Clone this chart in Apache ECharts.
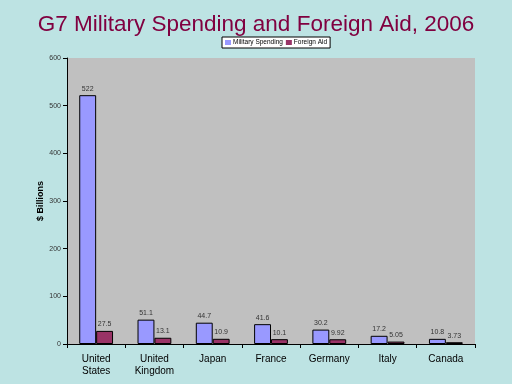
<!DOCTYPE html>
<html><head><meta charset="utf-8">
<script src="https://cdn.jsdelivr.net/npm/echarts@6/dist/echarts.min.js"></script>
<style>html,body{margin:0;padding:0;background:#bde3e3;}#c{width:512px;height:384px;}</style>
</head><body><div id="c"></div>
<script>
var categories = ['United\nStates','United\nKingdom','Japan','France','Germany','Italy','Canada'];
var military = [522, 51.1, 44.7, 41.6, 30.2, 17.2, 10.8];
var aid = [27.5, 13.1, 10.9, 10.1, 9.92, 5.05, 3.73];
var yTicks = [0, 100, 200, 300, 400, 500, 600];

var chart = echarts.init(document.getElementById('c'), null, {renderer:'canvas'});
var lbl = {show:true, position:'top', fontSize:7, color:'#333', fontFamily:'Liberation Sans', distance:3};
chart.setOption({
  backgroundColor:'#bde3e3',
  animation:false,
  title:{text:'G7 Military Spending and Foreign Aid, 2006', left:'center', top:8,
    textStyle:{fontFamily:'Liberation Sans', fontSize:22.5, fontWeight:'normal', color:'#800040'}},
  legend:{top:37, left:222, itemWidth:6, itemHeight:5, itemGap:3, padding:[2,3],
    icon:'rect',
    backgroundColor:'#fff', borderColor:'#000', borderWidth:1,
    itemStyle:{borderWidth:0},
    textStyle:{fontSize:6.5, fontFamily:'Liberation Sans', color:'#000', padding:[0,0,0,-3]},
    data:['Military Spending','Foreign Aid']},
  grid:{left:67, right:37, top:58, bottom:40, backgroundColor:'#c0c0c0', show:true, borderWidth:0},
  xAxis:{type:'category', data:categories,
    axisLine:{lineStyle:{color:'#000'}},
    axisTick:{show:true, alignWithLabel:false, length:4, lineStyle:{color:'#000'}},
    axisLabel:{fontSize:10, fontFamily:'Liberation Sans', color:'#000', lineHeight:12, margin:9}},
  yAxis:{type:'value', min:0, max:600, interval:100,
    name:'$ Billions', nameLocation:'middle', nameGap:22, nameMoveOverlap:false,
    nameTextStyle:{fontSize:9, fontWeight:'bold', fontFamily:'Liberation Sans', color:'#000'},
    axisLine:{show:true, lineStyle:{color:'#000'}},
    axisTick:{show:true, length:4, lineStyle:{color:'#000'}},
    splitLine:{show:false},
    axisLabel:{fontSize:7, fontFamily:'Liberation Sans', color:'#333', margin:6,
      formatter:function(v){return yTicks.indexOf(v)>=0 ? String(v) : '';}}},
  series:[
    {name:'Military Spending', type:'bar', data:military, barGap:'0%', barCategoryGap:'42%',
     itemStyle:{color:'#9999ff', borderColor:'#000', borderWidth:1}, label:lbl},
    {name:'Foreign Aid', type:'bar', data:aid,
     itemStyle:{color:'#993366', borderColor:'#000', borderWidth:1}, label:lbl}
  ]
});
</script></body></html>
